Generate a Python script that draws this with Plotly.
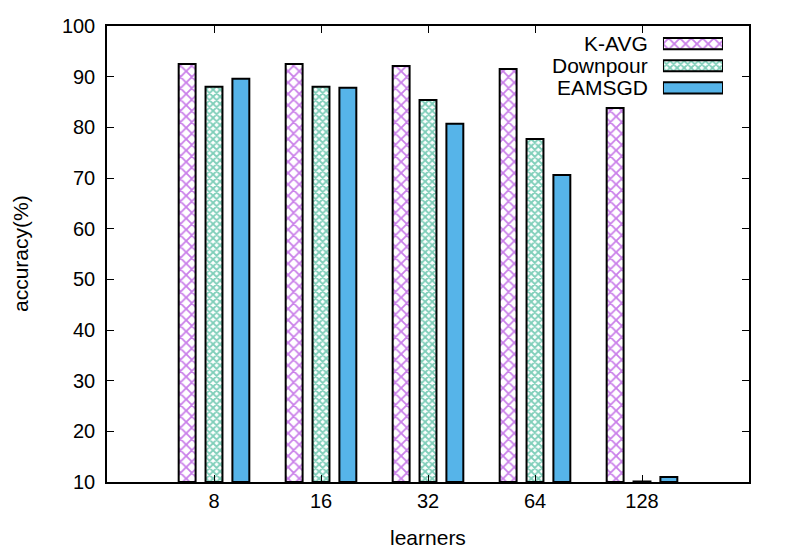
import plotly.graph_objects as go

learners = ["8", "16", "32", "64", "128"]
series = ["K-AVG", "Downpour", "EAMSGD"]
kavg = [92.5, 92.5, 92.1, 91.5, 83.8]
downpour = [88.0, 88.0, 85.4, 77.7, 10.1]
eamsgd = [89.6, 87.8, 80.7, 70.6, 11.0]
yticks = [10, 20, 30, 40, 50, 60, 70, 80, 90, 100]

_FONT = dict(family="Liberation Sans, Arial, sans-serif", size=20, color="black")
_BIG = dict(family="Liberation Sans, Arial, sans-serif", size=21, color="black")
_STYLE = {
    "K-AVG": dict(fillmode="overlay", shape="x", fgcolor="#9400D3", bgcolor="white",
                  size=8, solidity=0.4),
    "Downpour": dict(fillmode="overlay", shape="x", fgcolor="#009E73", bgcolor="white",
                     size=5, solidity=0.6),
    "EAMSGD": None,
}
_COLOR = {"K-AVG": "white", "Downpour": "white", "EAMSGD": "#56B4E9"}

fig = go.Figure()
xs = list(range(len(learners)))
for name, vals in zip(series, [kavg, downpour, eamsgd]):
    pat = _STYLE[name]
    fig.add_trace(go.Bar(
        x=xs, y=[v - 10 for v in vals], base=10, name=name,
        marker=dict(color=_COLOR[name], pattern=pat,
                    line=dict(color="black", width=2)),
        showlegend=False,
    ))
    # legend sample on an overlay axis
    fig.add_trace(go.Bar(
        x=[1], y=[name], base=0, orientation="h", xaxis="x2", yaxis="y2",
        width=0.5,
        marker=dict(color=_COLOR[name], pattern=pat,
                    line=dict(color="black", width=2)),
        showlegend=False, hoverinfo="skip",
    ))
    fig.add_annotation(text=name, xref="paper", x=0.846, xanchor="right",
                       yref="y2", y=name, showarrow=False, font=_BIG)

# axis titles
fig.add_annotation(text="learners", xref="paper", yref="paper", x=0.5, y=-0.121,
                   xanchor="center", yanchor="middle", showarrow=False, font=_BIG)
fig.add_annotation(text="accuracy(%)", xref="paper", yref="paper", x=-0.1355, y=0.5,
                   xanchor="center", yanchor="middle", textangle=-90,
                   showarrow=False, font=_BIG)

fig.update_layout(
    width=789, height=552,
    paper_bgcolor="white", plot_bgcolor="white",
    font=_FONT,
    margin=dict(l=107, r=40, t=26, b=70),
    barmode="group", bargap=0.247, bargroupgap=0.37,
    xaxis=dict(range=[-1, 5], tickvals=xs, ticktext=learners,
               ticks="inside", ticklen=7, tickcolor="black",
               showline=True, linecolor="black", linewidth=1.5, mirror="ticks",
               showgrid=False, zeroline=False, automargin=False),
    yaxis=dict(range=[10, 100], tickvals=yticks,
               ticks="inside", ticklen=7, tickcolor="black",
               showline=True, linecolor="black", linewidth=1.5, mirror="ticks",
               showgrid=False, zeroline=False, automargin=False,
               ticklabelstandoff=6),
    xaxis2=dict(domain=[0.866, 0.9595], range=[0, 1], visible=False, fixedrange=True),
    yaxis2=dict(domain=[0.840, 0.9857], anchor="x2", visible=False,
                categoryorder="array", categoryarray=series[::-1],
                range=[-0.5, 2.5], fixedrange=True),
)

fig.write_html("out.html", config={"displayModeBar": False},
               post_script="document.body.style.margin='0';")
